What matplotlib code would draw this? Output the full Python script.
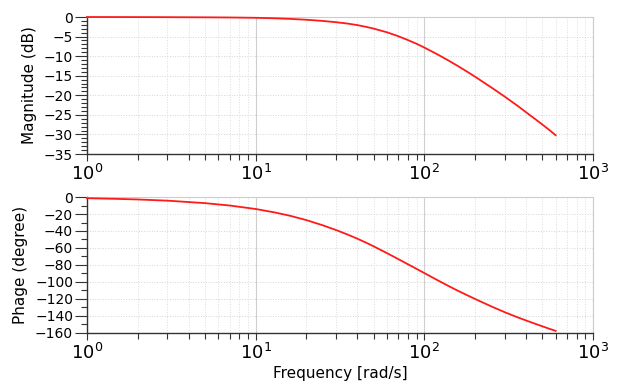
import matplotlib
matplotlib.use("Agg")
import matplotlib.pyplot as plt
from matplotlib.ticker import LogLocator, MultipleLocator, NullFormatter

plt.rcParams['font.family'] = ['DejaVu Sans']

# Frequencies (rad/s) and values
freq = [1, 1.5, 2, 3, 5, 7, 10, 13, 16, 20, 25, 30, 35, 40, 45, 50, 60, 70, 80, 90,
        100, 120, 140, 160, 180, 200, 250, 300, 350, 400, 450, 500, 550, 600]
magnitude_db = [0.0, -0.01, -0.02, -0.04, -0.08, -0.12, -0.2, -0.33, -0.48, -0.7, -1.0,
                -1.33, -1.67, -2.06, -2.5, -2.95, -3.9, -4.9, -5.9, -6.85,
                -7.8, -9.58, -11.19, -12.66, -14.01, -15.26, -18.02, -20.36, -22.42, -24.3,
                -25.95, -27.45, -28.85, -30.2]
phase_deg = [-1.4, -2.2, -2.9, -4.3, -7.2, -10.0, -14.1, -18.2, -22.1, -27.2, -33.3,
             -38.9, -44.1, -49.0, -53.6, -58.0, -66.0, -73.0, -79.2, -84.6,
             -89.5, -98.0, -105.0, -110.8, -115.7, -120.0, -128.8, -135.6, -140.9, -145.2,
             -148.9, -152.1, -155.0, -157.5]

mag_ticks = [0, -5, -10, -15, -20, -25, -30, -35]
phase_ticks = [0, -20, -40, -60, -80, -100, -120, -140, -160]

fig = plt.figure(figsize=(6.2, 3.85), dpi=100)
ax1 = fig.add_axes([0.1403, 0.6, 0.8162, 0.3558])
ax2 = fig.add_axes([0.1403, 0.1351, 0.8162, 0.3532])

def style(ax):
    ax.set_xscale('log')
    ax.set_xlim(1, 1000)
    ax.xaxis.set_major_locator(LogLocator(base=10, numticks=10))
    ax.xaxis.set_minor_locator(LogLocator(base=10, subs=range(2, 10), numticks=10))
    ax.xaxis.set_minor_formatter(NullFormatter())
    ax.grid(True, which='major', axis='x', color='#cfcfcf', lw=0.8, ls='-')
    ax.grid(True, which='minor', axis='x', color='#dcdcdc', lw=0.7, ls=':')
    ax.grid(True, which='major', axis='y', color='#d4d4d4', lw=0.7, ls=':')
    for s in ['top', 'right']:
        ax.spines[s].set_color('#cccccc')
    for s in ['left', 'bottom']:
        ax.spines[s].set_color('#333333')
        ax.spines[s].set_linewidth(1.0)
    ax.tick_params(axis='y', which='major', direction='out', length=9, width=0.8,
                   color='#333333', labelsize=10, pad=1)
    ax.tick_params(axis='y', which='minor', direction='out', length=4.5, width=0.8,
                   color='#333333')
    ax.tick_params(axis='x', which='major', direction='out', length=5, width=0.8,
                   color='#333333', labelsize=13, pad=2)
    ax.tick_params(axis='x', which='minor', direction='out', length=4, width=0.8,
                   color='#333333')

style(ax1)
ax1.plot(freq, magnitude_db, color='#ff1a1a', lw=1.3, clip_on=False, zorder=5)
ax1.set_ylim(-35, 0)
ax1.set_yticks(mag_ticks)
ax1.yaxis.set_minor_locator(MultipleLocator(1))
ax1.set_ylabel('Magnitude (dB)', fontsize=11, labelpad=5)

style(ax2)
ax2.plot(freq, phase_deg, color='#ff1a1a', lw=1.3, clip_on=False, zorder=5)
ax2.set_ylim(-160, 0)
ax2.set_yticks(phase_ticks)
ax2.yaxis.set_minor_locator(MultipleLocator(10))
ax2.set_ylabel('Phage (degree)', fontsize=11, labelpad=5)
ax2.set_xlabel('Frequency [rad/s]', fontsize=11, labelpad=2)

fig.savefig('out.png', dpi=100, facecolor='white')
